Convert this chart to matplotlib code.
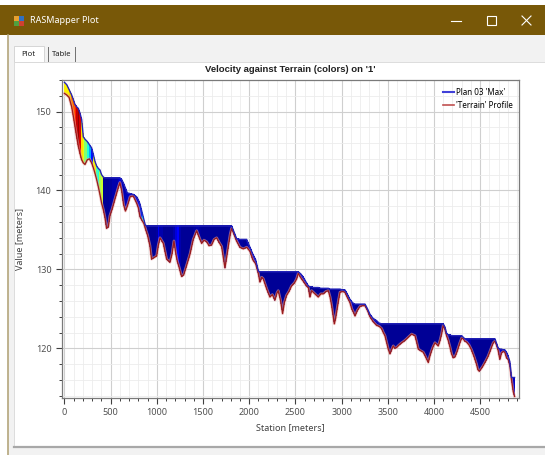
import matplotlib
matplotlib.use("Agg")
import matplotlib.pyplot as plt
from matplotlib.patches import Rectangle
from matplotlib.lines import Line2D
from matplotlib.ticker import MultipleLocator

plt.rcParams["font.family"] = ["Noto Sans", "DejaVu Sans"]

# profile: station [m], terrain [m], max WSE [m], velocity [m/s]
station = [
    0, 25, 50, 78, 96, 114, 132, 150, 168, 186, 204, 222, 247, 270, 294,
    312, 330, 348, 366, 384, 402, 420, 438, 456, 475, 492, 520, 546, 583, 600,
    619, 640, 660, 680, 710, 745, 781, 800, 817, 840, 860, 875, 900, 925, 943,
    970, 998, 1015, 1034, 1070, 1106, 1142, 1165, 1185, 1205, 1222, 1240, 1268,
    1290, 1322, 1360, 1394, 1431, 1460, 1485, 1510, 1539, 1565, 1593, 1620,
    1647, 1675, 1701, 1720, 1737, 1755, 1773, 1795, 1810, 1840, 1863, 1899,
    1936, 1972, 2008, 2040, 2070, 2098, 2116, 2135, 2152, 2190, 2224, 2250,
    2278, 2300, 2314, 2340, 2361, 2380, 2404, 2430, 2458, 2490, 2513, 2531,
    2560, 2585, 2620, 2640, 2657, 2675, 2693, 2720, 2747, 2775, 2802, 2830,
    2856, 2875, 2892, 2910, 2921, 2935, 2946, 2965, 2982, 3010, 3036, 3060,
    3090, 3110, 3127, 3145, 3170, 3199, 3225, 3253, 3280, 3307, 3340, 3379,
    3405, 3433, 3451, 3469, 3490, 3505, 3523, 3540, 3559, 3575, 3595, 3620,
    3650, 3675, 3704, 3730, 3758, 3775, 3794, 3812, 3830, 3855, 3884, 3910,
    3938, 3955, 3974, 3990, 4010, 4028, 4046, 4065, 4082, 4100, 4118, 4136,
    4154, 4172, 4190, 4208, 4226, 4250, 4280, 4300, 4316, 4334, 4352, 4380,
    4406, 4435, 4460, 4475, 4489, 4510, 4532, 4560, 4586, 4615, 4641, 4660,
    4677, 4695, 4713, 4730, 4749, 4767, 4785, 4803, 4821, 4839, 4858, 4872,
]
terrain = [
    152.3, 152.1, 151.8, 150.6, 149.4, 148.1, 146.8, 145.6, 144.7, 143.9,
    143.5, 143.3, 143.9, 144.0, 143.5, 142.9, 142.2, 141.4, 140.5, 139.5,
    138.4, 137.6, 136.6, 135.2, 135.4, 136.8, 137.8, 138.9, 140.4,
    141.0, 140.0, 138.2, 137.4, 138.0, 139.2, 139.3, 138.4, 137.8, 136.7,
    136.2, 135.8, 135.2, 134.3, 133.0, 131.3, 131.5, 131.7, 133.0, 134.0,
    133.3, 131.3, 130.9, 132.0, 133.6, 132.0, 131.0, 130.3, 129.1, 129.3,
    130.5, 132.0, 133.8, 134.9, 134.0, 133.3, 133.7, 133.5, 133.0, 133.1,
    133.8, 134.0, 133.4, 132.9, 131.5, 130.2, 131.5, 132.9, 134.5, 135.2,
    134.3, 133.6, 132.8, 132.6, 132.8, 132.3, 131.2, 130.7, 129.5, 128.4,
    129.0, 128.8, 127.5, 126.5, 126.8, 126.1, 127.0, 127.3, 126.0, 124.4,
    125.8, 126.7, 127.2, 127.9, 128.3, 128.8, 129.5, 128.9, 128.5, 127.9,
    127.7, 126.5, 127.3, 127.1, 126.8, 126.5, 126.9, 126.9, 127.2, 127.3,
    126.5, 125.4, 124.0, 123.1, 123.8, 124.6, 126.0, 127.1, 127.2, 127.1,
    126.5, 125.8, 125.0, 124.6, 124.1, 124.8, 125.3, 125.4, 125.4, 124.8,
    124.0, 123.4, 122.9, 122.8, 122.5, 122.0, 121.6, 120.6, 119.9, 119.3,
    119.8, 120.3, 120.0, 120.1, 120.4, 120.7, 120.9, 121.2, 121.5, 121.8,
    121.7, 121.6, 120.8, 119.9, 119.7, 119.5, 118.9, 118.2, 119.0, 119.7,
    120.2, 120.7, 120.5, 120.3, 121.0, 121.8, 122.9, 122.4, 121.6, 121.0,
    120.2, 119.3, 118.8, 118.9, 119.6, 120.7, 121.3, 121.2, 120.9, 120.8,
    120.4, 119.8, 118.9, 118.0, 117.3, 117.1, 117.4, 117.8, 118.4, 119.0,
    119.9, 120.7, 120.9, 120.4, 119.7, 118.6, 119.4, 119.6, 119.5, 118.8,
    118.6, 117.8, 116.0, 114.5, 113.9,
]
wse = [
    153.7, 153.4, 152.8, 152.1, 151.5, 150.9, 150.6, 150.4, 149.8, 149.0,
    146.8, 146.5, 146.2, 145.8, 145.4, 144.6, 143.7, 143.1, 142.8, 142.6,
    142.0, 141.7, 141.6, 141.6, 141.6, 141.6, 141.6, 141.6, 141.6,
    141.6, 141.4, 140.9, 140.3, 139.7, 139.6, 139.5, 139.2, 138.8, 138.3,
    137.2, 136.3, 135.6, 135.5, 135.5, 135.5, 135.5, 135.5, 135.5, 135.5,
    135.5, 135.5, 135.5, 135.5, 135.5, 135.5, 135.5, 135.5, 135.5, 135.5,
    135.5, 135.5, 135.5, 135.5, 135.5, 135.5, 135.5, 135.5, 135.5, 135.5,
    135.5, 135.5, 135.5, 135.5, 135.5, 135.5, 135.5, 135.5, 135.5, 135.5,
    134.6, 133.9, 133.8, 133.8, 133.8, 132.8, 131.9, 131.2, 129.8, 129.7,
    129.7, 129.7, 129.7, 129.7, 129.7, 129.7, 129.7, 129.7, 129.7, 129.7,
    129.7, 129.7, 129.7, 129.7, 129.7, 129.7, 129.7, 129.4, 129.0, 128.3,
    127.9, 127.8, 127.8, 127.7, 127.7, 127.7, 127.6, 127.6, 127.6, 127.6,
    127.5, 127.5, 127.5, 127.5, 127.5, 127.5, 127.5, 127.5, 127.4, 127.4,
    126.9, 126.2, 125.9, 125.7, 125.6, 125.6, 125.6, 125.6, 125.6, 125.0,
    124.3, 123.8, 123.5, 123.2, 123.1, 123.1, 123.1, 123.1, 123.1, 123.1,
    123.1, 123.1, 123.1, 123.1, 123.1, 123.1, 123.1, 123.1, 123.1, 123.1,
    123.1, 123.1, 123.1, 123.1, 123.1, 123.1, 123.1, 123.1, 123.1, 123.1,
    123.1, 123.1, 123.1, 123.1, 123.1, 123.1, 123.1, 122.7, 121.9, 121.7,
    121.7, 121.6, 121.6, 121.6, 121.6, 121.6, 121.6, 121.4, 121.2, 121.2,
    121.2, 121.2, 121.2, 121.2, 121.2, 121.2, 121.2, 121.2, 121.2, 121.2,
    121.2, 121.2, 121.2, 120.6, 120.0, 119.9, 119.9, 119.8, 119.8, 119.5,
    119.0, 118.3, 116.3, 116.3, 116.3,
]
velocity = [
    3.3, 3.3, 3.5, 3.9, 4.1, 4.4, 4.7, 4.9, 4.6, 3.4, 3.2, 2.6, 2.0, 1.5,
    0.8, 3.2, 3.3, 2.2, 2.0, 2.8, 3.0, 0.2, 0.2, 0.2, 0.2, 0.25, 0.3,
    0.3, 0.4, 0.5, 0.4, 0.3, 0.35, 0.4, 0.4, 0.5, 0.5, 0.6, 0.9, 1.8, 2.2,
    0.3, 0.2, 0.2, 0.2, 0.2, 0.25, 0.6, 0.3, 0.2, 0.2, 0.2, 0.2, 0.3, 0.5,
    0.7, 0.3, 0.2, 0.2, 0.2, 0.2, 0.25, 0.3, 0.25, 0.2, 0.2, 0.2, 0.2, 0.2,
    0.2, 0.2, 0.2, 0.2, 0.2, 0.2, 0.2, 0.25, 0.3, 0.5, 0.6, 0.4, 0.25, 0.2,
    0.3, 0.5, 0.5, 0.5, 0.4, 0.2, 0.2, 0.2, 0.2, 0.2, 0.2, 0.2, 0.2, 0.2,
    0.2, 0.2, 0.2, 0.2, 0.2, 0.2, 0.25, 0.3, 0.4, 0.5, 0.5, 0.4, 0.3, 0.2,
    0.2, 0.2, 0.2, 0.2, 0.2, 0.2, 0.2, 0.2, 0.2, 0.2, 0.2, 0.2, 0.2, 0.2,
    0.2, 0.2, 0.3, 0.4, 0.4, 0.5, 0.4, 0.3, 0.2, 0.2, 0.2, 0.3, 0.3, 0.4,
    0.5, 0.4, 0.3, 0.3, 0.2, 0.2, 0.2, 0.2, 0.2, 0.2, 0.2, 0.2, 0.2, 0.2,
    0.2, 0.2, 0.2, 0.2, 0.2, 0.2, 0.2, 0.2, 0.2, 0.2, 0.2, 0.2, 0.2, 0.2,
    0.2, 0.2, 0.2, 0.2, 0.2, 0.2, 0.2, 0.25, 0.3, 0.5, 0.5, 0.4, 0.2, 0.2,
    0.2, 0.2, 0.2, 0.2, 0.3, 0.4, 0.5, 0.4, 0.3, 0.2, 0.2, 0.2, 0.2, 0.2,
    0.2, 0.2, 0.2, 0.2, 0.2, 0.2, 0.2, 0.3, 0.4, 0.5, 0.4, 0.3, 0.3, 0.3,
    0.3, 0.3, 0.4, 0.4, 0.3, 0.3, 0.3,
]

W, H = 545, 455
fig = plt.figure(figsize=(W / 100, H / 100), dpi=100, facecolor="white")

# window chrome, drawn in pixel coordinates
bg = fig.add_axes([0, 0, 1, 1], zorder=0)
bg.set_xlim(0, W)
bg.set_ylim(H, 0)
bg.axis("off")
bg.add_patch(Rectangle((8, 35), W - 8, H - 35, color="#f2f2f2", lw=0))
bg.add_patch(Rectangle((0, 5), W, 30, color="#785808", lw=0))
bg.plot([8, 8], [35, H], color="#b4a67c", lw=1.2)
bg.add_patch(Rectangle((14, 16), 5, 5, color="#e8a030", lw=0))
bg.add_patch(Rectangle((19, 16), 5, 5, color="#3070c0", lw=0))
bg.add_patch(Rectangle((14, 21), 5, 5, color="#50a040", lw=0))
bg.add_patch(Rectangle((19, 21), 5, 5, color="#d04030", lw=0))
bg.text(30, 20.5, "RASMapper Plot", color="white", fontsize=6.5, va="center")
bg.plot([451, 461], [20.5, 20.5], color="white", lw=0.8)
bg.add_patch(Rectangle((487, 16), 9, 9, fill=False, ec="white", lw=0.8))
bg.plot([522, 531], [16, 25], color="white", lw=0.8)
bg.plot([522, 531], [25, 16], color="white", lw=0.8)
# tabs
bg.add_patch(Rectangle((14, 46), 30, 16, fc="white", ec="#d0d0d0", lw=0.6))
bg.text(21, 54, "Plot", fontsize=5.5, va="center", color="#202020")
bg.plot([48, 48], [47, 61], color="#707070", lw=0.7)
bg.text(52, 54, "Table", fontsize=5.5, va="center", color="#202020")
bg.plot([75, 75], [47, 61], color="#707070", lw=0.7)
# plot panel
bg.add_patch(Rectangle((14, 62), W - 14, 384, fc="white", ec="#d8d8d8", lw=0.6))
bg.plot([14, W], [447, 447], color="#a8a8a8", lw=1.6)

ax = fig.add_axes([61.7 / W, 1 - 398 / H, (519 - 61.7) / W, (398 - 80) / H], zorder=1)
ax.set_facecolor("white")

cmap = plt.get_cmap("jet")
norm = plt.Normalize(0.1, 5.0)
for i in range(len(station) - 1):
    c = cmap(norm(velocity[i]))
    ax.fill_between(station[i:i + 2], terrain[i:i + 2], wse[i:i + 2],
                    facecolor=c, edgecolor="none", lw=0, antialiased=False, zorder=2)

ax.plot(station, terrain, color="#e8a0a0", lw=2.0, alpha=0.6, zorder=3)
ax.plot(station, terrain, color="#9a1c1c", lw=0.9, zorder=3)
ax.plot(station, wse, color="#2424b8", lw=1.0, zorder=4)

ax.set_xlim(-30, 4920)
ax.set_ylim(113.7, 154.0)
ax.xaxis.set_major_locator(MultipleLocator(500))
ax.xaxis.set_minor_locator(MultipleLocator(100))
ax.yaxis.set_major_locator(MultipleLocator(10))
ax.yaxis.set_minor_locator(MultipleLocator(2))
ax.set_axisbelow(True)
ax.grid(which="minor", color="#ececec", lw=0.6)
ax.grid(which="major", color="#cfcfcf", lw=0.8)
ax.tick_params(which="both", direction="out", colors="#404040", labelcolor="#505050",
               labelsize=6.5)
ax.tick_params(which="major", length=4, width=0.8)
ax.tick_params(which="minor", length=2.5, width=0.7)
for sp in ax.spines.values():
    sp.set_color("#7a7a7a")
    sp.set_linewidth(0.9)

ax.set_title("Velocity against Terrain (colors) on '1'", fontsize=6.8,
             fontweight="bold", family=["Liberation Sans", "DejaVu Sans"],
             color="#202020", pad=6)
ax.set_xlabel("Station [meters]", fontsize=6.5, color="#404040", labelpad=4)
ax.set_ylabel("Value [meters]", fontsize=6.5, color="#404040", labelpad=8)

handles = [Line2D([], [], color="#4040d8", lw=1.5),
           Line2D([], [], color="#c05050", lw=1.2)]
ax.legend(handles, ["Plan 03 'Max'", "'Terrain' Profile"], loc="upper right",
          frameon=False, fontsize=5.8, handlelength=1.4, handletextpad=0.3,
          labelspacing=0.5, borderaxespad=0.6, bbox_to_anchor=(1.005, 1.0))

fig.savefig("out.png", dpi=100, facecolor="white")
